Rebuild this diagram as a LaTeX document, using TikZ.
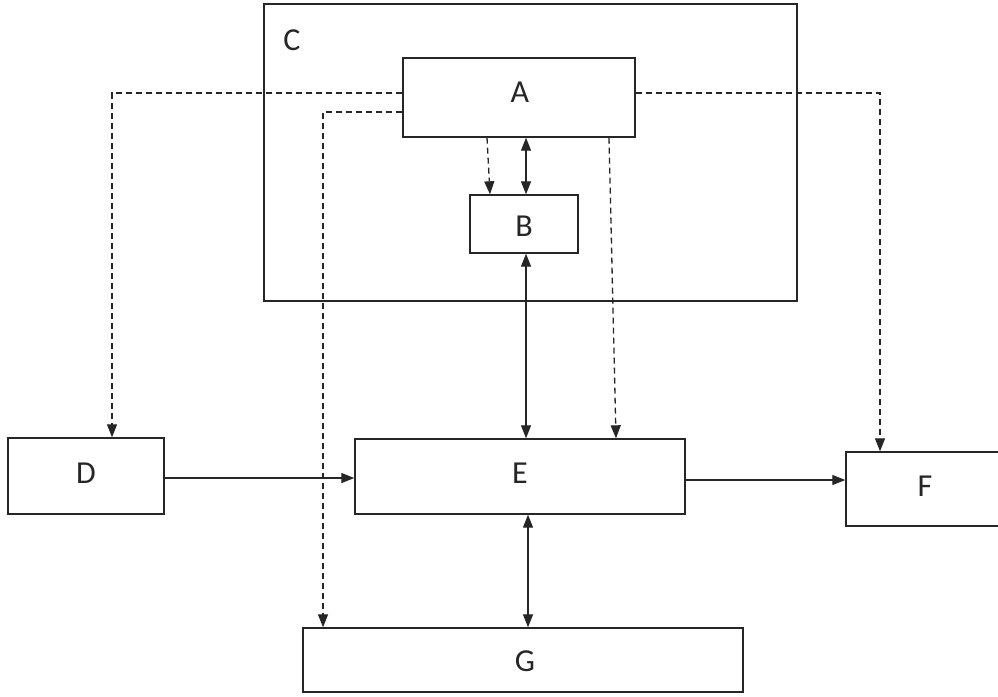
\documentclass[tikz,border=0pt]{standalone}
\usepackage{fontspec}
\setmainfont{Carlito}
\usetikzlibrary{arrows.meta}
\begin{document}
\begin{tikzpicture}[x=1pt,y=-1pt,
  box/.style={draw=black!85,line width=1.4pt,fill=none},
  lbl/.style={font=\fontsize{32}{34}\selectfont,text=black!85},
  conn/.style={line width=1.3pt,draw=black!85,-{Triangle[length=13pt,width=10pt]}},
  bconn/.style={line width=1.3pt,draw=black!85,{Triangle[length=13pt,width=10pt]}-{Triangle[length=13pt,width=10pt]}},
  dconn/.style={conn,dash pattern=on 6pt off 4pt}]
\useasboundingbox (0,0) rectangle (998,696);
\clip (0,0) rectangle (998,696);
\fill[white] (0,0) rectangle (998,696);
% boxes
\draw[box] (264,4) rectangle (797,301);
\node[lbl] (Cl) at (292,40) {C};
\node[box,minimum width=232pt,minimum height=79pt,inner sep=0pt] (A) at (519,97.5) {};
\node[lbl] at (520,92) {A};
\node[box,minimum width=108pt,minimum height=58pt,inner sep=0pt] (B) at (524,224) {};
\node[lbl] at (524,226) {B};
\node[box,minimum width=156pt,minimum height=76pt,inner sep=0pt] (D) at (86,476) {};
\node[lbl] at (86,473) {D};
\node[box,minimum width=330pt,minimum height=75pt,inner sep=0pt] (E) at (520,476.5) {};
\node[lbl] at (520,473) {E};
\node[box,minimum width=170pt,minimum height=74pt,inner sep=0pt] (F) at (931,489) {};
\node[lbl] at (925,486) {F};
\node[box,minimum width=440pt,minimum height=64pt,inner sep=0pt] (G) at (523,660) {};
\node[lbl] at (525,661) {G};
% coordinates
\coordinate (aL1) at (A.west |- 0,93);
\coordinate (aL2) at (A.west |- 0,112);
\coordinate (aR1) at (A.east |- 0,93);
\coordinate (dK) at (112,93);
\coordinate (gK) at (323,112);
\coordinate (fK) at (880,93);
% dashed connectors
\draw[dconn] (aL1) -- (dK) -- (dK |- D.north);
\draw[dconn] (aL2) -- (gK) -- (gK |- G.north);
\draw[dconn] (aR1) -- (fK) -- (fK |- F.north);
\draw[dconn] (A.south -| 487,0) -- (B.north -| 490,0);
\draw[dconn] (A.south -| 609,0) -- (E.north -| 616,0);
% solid connectors
\draw[bconn] (A.south -| 526,0) -- (B.north -| 526,0);
\draw[bconn] (B.south -| 526,0) -- (E.north -| 526,0);
\draw[bconn] (E.south -| 528,0) -- (G.north -| 528,0);
\draw[conn] (D.east |- 0,478) -- (E.west |- 0,478);
\draw[conn] (E.east |- 0,480) -- (F.west |- 0,480);
\end{tikzpicture}
\end{document}
